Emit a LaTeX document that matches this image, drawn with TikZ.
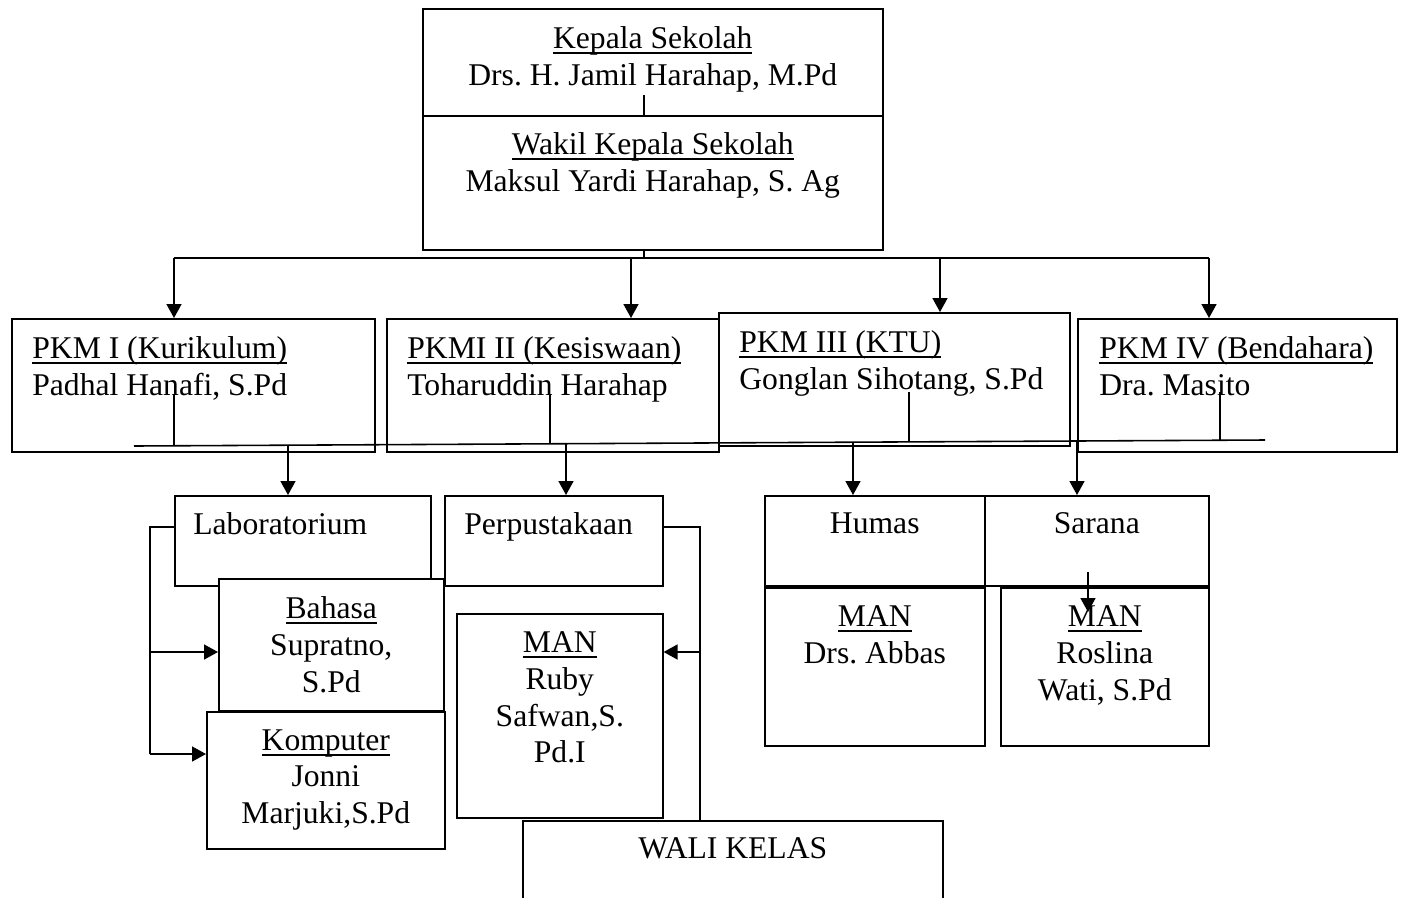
\documentclass[tikz,border=0pt]{standalone}
\usepackage{fontspec}
\setmainfont{Liberation Serif}
\usetikzlibrary{arrows.meta,positioning,calc}
\frenchspacing
\newsavebox\tulbox
\newcommand\tul[1]{\sbox\tulbox{#1}\leavevmode\rlap{\vrule height -2pt depth 3.1pt width \wd\tulbox}\usebox\tulbox}

\begin{document}
\begin{tikzpicture}[x=0.02cm,y=-0.02cm,
    box/.style={draw,fill=white,line width=0.9pt,inner sep=0pt,anchor=north west},
    sz/.style 2 args={minimum width=#1*0.02cm,minimum height=#2*0.02cm},
    txt/.style={inner sep=0pt,align=center,anchor=north,font=\fontsize{18}{21}\selectfont},
    ltxt/.style={txt,align=left,anchor=north west},
    conn/.style={line width=0.9pt},
    arr/.style={conn,-{Triangle[length=2.8mm,width=3mm]}}]
  \useasboundingbox (0,0) rectangle (1401,897);
  \clip (0,0) rectangle (1401,897);

  % kepala + wakil
  \node[box,sz={460}{107}] (kepala) at (422,8) {};
  \node[box,sz={460}{134}] (wakil) at (422,115) {};
  \node[txt] (kepalaT) at ($(kepala.north)+(0,18)$) {\tul{Kepala Sekolah}\\Drs. H. Jamil Harahap, M.Pd};
  \node[txt] (wakilT) at ($(wakil.north)+(0,17)$) {\tul{Wakil Kepala Sekolah}\\Maksul Yardi Harahap, S. Ag};

  % PKM row
  \node[box,sz={363}{133}] (pkmA) at (11,318) {};
  \node[box,sz={332}{133}] (pkmB) at (386,318) {};
  \node[box,sz={319}{133}] (pkmD) at (1077,318) {};
  \node[box,sz={351}{133}] (pkmC) at (718,312) {};
  \node[ltxt] (pkmAT) at ($(pkmA.north west)+(21,18)$) {\tul{PKM I (Kurikulum)}\\Padhal Hanafi, S.Pd};
  \node[ltxt] (pkmBT) at ($(pkmB.north west)+(21,18)$) {\tul{PKMI II (Kesiswaan)}\\Toharuddin Harahap};
  \node[ltxt] (pkmCT) at ($(pkmC.north west)+(21,18)$) {\tul{PKM III (KTU)}\\Gonglan Sihotang, S.Pd};
  \node[ltxt] (pkmDT) at ($(pkmD.north west)+(22,18)$) {\tul{PKM IV (Bendahara)}\\Dra. Masito};

  % unit boxes
  \node[box,sz={256}{90}] (lab) at (174,495) {};
  \node[box,sz={218}{90}] (perpus) at (444,495) {};
  \node[box,sz={225}{132}] (bahasa) at (218,578) {};
  \node[box,sz={238}{137}] (komputer) at (206,711) {};
  \node[box,sz={206}{204}] (manA) at (456,613) {};
  \node[box,sz={420}{120}] (wali) at (522,820) {};
  \node[box,sz={220}{90}] (humas) at (764,495) {};
  \node[box,sz={224}{90}] (sarana) at (984,495) {};
  \node[box,sz={220}{158}] (manB) at (764,587) {};
  \node[box,sz={208}{158}] (manC) at (1000,587) {};
  \node[ltxt] (labT) at ($(lab.north west)+(19,17)$) {Laboratorium};
  \node[ltxt] (perpusT) at ($(perpus.north west)+(20,17)$) {Perpustakaan};
  \node[txt] (bahasaT) at ($(bahasa.north)+(0,18)$) {\tul{Bahasa}\\Supratno,\\S.Pd};
  \node[txt] (komputerT) at ($(komputer.north)+(0,18)$) {\tul{Komputer}\\Jonni\\Marjuki,S.Pd};
  \node[txt] (manAT) at ($(manA.north)+(0,18)$) {\tul{MAN}\\Ruby\\Safwan,S.\\Pd.I};
  \node[txt] (waliT) at ($(wali.north)+(0,17)$) {WALI KELAS};
  \node[txt] (humasT) at ($(humas.north)+(0,17)$) {Humas};
  \node[txt] (saranaT) at ($(sarana.north)+(0,17)$) {Sarana};
  \node[txt] (manBT) at ($(manB.north)+(0,18)$) {\tul{MAN}\\Drs. Abbas};
  \node[txt] (manCT) at ($(manC.north)+(0,18)$) {\tul{MAN}\\Roslina\\Wati, S.Pd};

  % top lines
  \coordinate (k0) at (644,95);
  \coordinate (t0) at (644,258);
  \coordinate (tA) at (174,258);
  \coordinate (tB) at (631,258);
  \coordinate (tC) at (940,258);
  \coordinate (tD) at (1209,258);
  \draw[conn] (k0) -- (k0 |- wakil.north);
  \draw[conn] (t0 |- wakil.south) -- (t0);
  \draw[conn] (tA) -- (tD);
  \draw[arr] (tA) -- (tA |- pkmA.north);
  \draw[arr] (tB) -- (tB |- pkmB.north);
  \draw[arr] (tC) -- (tC |- pkmC.north);
  \draw[arr] (tD) -- (tD |- pkmD.north);

  % PKM bus
  \coordinate (bL) at (134,446);
  \coordinate (bR) at (1265,440);
  \draw[conn] (bL) -- (bR);
  \draw[conn] (174,394) -- (174,446);
  \draw[conn] (550,394) -- (550,444);
  \draw[conn] (909,392) -- (909,442);
  \draw[conn] (1220,392) -- (1220,441);
  \coordinate (dA) at (288,445);
  \coordinate (dB) at (566,444);
  \coordinate (dC) at (853,443);
  \coordinate (dD) at (1077,441);
  \draw[arr] (dA) -- (dA |- lab.north);
  \draw[arr] (dB) -- (dB |- perpus.north);
  \draw[arr] (dC) -- (dC |- humas.north);
  \draw[arr] (dD) -- (dD |- sarana.north);

  % lab, perpus, sarana links
  \coordinate (lB) at (150,652);
  \coordinate (lK) at (150,754);
  \draw[conn] ($(lab.north west)+(0,32)$) -| (lK);
  \draw[arr] (lB) -- (lB -| bahasa.west);
  \draw[arr] (lK) -- (lK -| komputer.west);
  \coordinate (pM) at (700,652);
  \draw[conn] ($(perpus.north east)+(0,32)$) -| (pM |- wali.north);
  \draw[arr] (pM) -- (pM -| manA.east);
  \coordinate (sM) at (1088,572);
  \draw[arr] (sM) -- ++(0,40);
\end{tikzpicture}
\end{document}
